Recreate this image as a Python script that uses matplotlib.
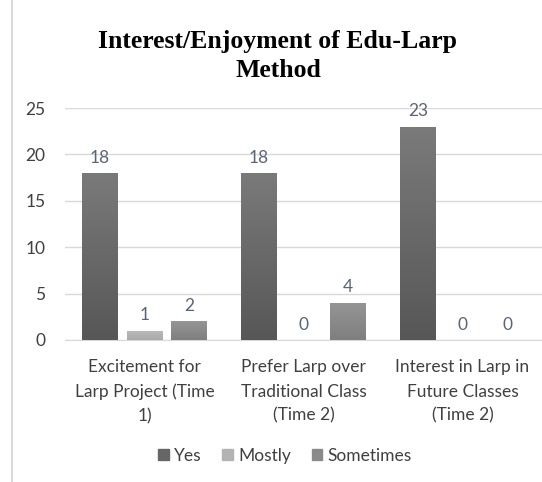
import matplotlib
matplotlib.use("Agg")
import matplotlib.pyplot as plt
import numpy as np
from matplotlib.lines import Line2D
from matplotlib.patches import Patch
from matplotlib.colors import LinearSegmentedColormap

categories = ["Excitement for\nLarp Project (Time\n1)",
              "Prefer Larp over\nTraditional Class\n(Time 2)",
              "Interest in Larp in\nFuture Classes\n(Time 2)"]
series_names = ["Yes", "Mostly", "Sometimes"]
yes = [18, 18, 23]
mostly = [1, 0, 0]
sometimes = [2, 4, 0]
yticks = [0, 5, 10, 15, 20, 25]

colors = ["#666666", "#b3b3b3", "#8a8a8a"]
grad = [("#575757", "#7a7a7a"), ("#aaaaaa", "#bbbbbb"), ("#7f7f7f", "#959595")]
font = "Lato"
fs = 12.5

fig = plt.figure(figsize=(5.42, 4.82), dpi=100)
ax = fig.add_axes([65/542, 1-340/482, 1-65/542, (340-108)/482])

x = np.arange(len(categories))
step = 0.28
width = 0.226
gimg = np.linspace(0, 1, 256).reshape(-1, 1)
for i, (vals, c, g) in enumerate(zip([yes, mostly, sometimes], colors, grad)):
    xs = x + (i-1)*step
    cmap = LinearSegmentedColormap.from_list("g%d" % i, [g[0], g[1]])
    bars = ax.bar(xs, vals, width=width, color=c, zorder=3)
    for b, xi, v in zip(bars, xs, vals):
        if v > 0:
            im = ax.imshow(gimg, cmap=cmap, origin="lower", aspect="auto",
                           extent=[xi - width/2, xi + width/2, 0, v], zorder=4)
            im.set_clip_path(b)
        ax.text(xi, v + 0.8, str(v), ha="center", va="bottom",
                fontsize=fs, color="#5a6478", family=font)

ax.set_xlim(-0.5, 2.5)
ax.set_ylim(0, 25)
ax.set_yticks(yticks)
ax.set_yticklabels([str(t) for t in yticks], fontsize=fs, color="#404040", family=font)
ax.yaxis.grid(True, color="#d9d9d9", linewidth=1, zorder=0)
ax.tick_params(axis="y", length=0, pad=14)
ax.set_xticks(x)
ax.set_xticklabels(categories, fontsize=fs, color="#404040", family=font, linespacing=1.62)
ax.tick_params(axis="x", length=0, pad=14)
for s in ["top", "right", "left"]:
    ax.spines[s].set_visible(False)
ax.spines["bottom"].set_color("#d9d9d9")

fig.text(278/542, 1-56/482, "Interest/Enjoyment of Edu-Larp\nMethod", ha="center", va="center",
         fontsize=18.5, fontweight="bold", family="Liberation Serif", linespacing=1.38)

handles = [Patch(color=c) for c in colors]
fig.legend(handles, series_names, loc="center", bbox_to_anchor=(285/542, 1-456/482), ncol=3,
           frameon=False, prop={"family": font, "size": fs}, handlelength=0.6, handleheight=0.6,
           handletextpad=0.3, columnspacing=1.2, labelcolor="#404040")

fig.add_artist(Line2D([12/542, 12/542], [0, 1], transform=fig.transFigure, color="#d9d9d9", linewidth=1.5))

fig.savefig("out.png", dpi=100)
